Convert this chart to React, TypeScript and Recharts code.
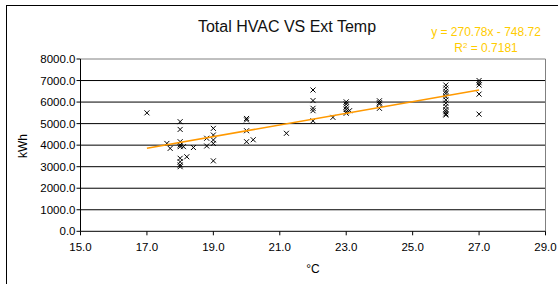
import React from 'react';
import { ScatterChart, Scatter, XAxis, YAxis, ReferenceLine } from 'recharts';

const FONT = '"Liberation Sans", Arial, sans-serif';

const chartTitle = 'Total HVAC VS Ext Temp';
const equationText = 'y = 270.78x - 748.72';
const r2Value = '0.7181';
const xAxisTitle = '°C';
const yAxisTitle = 'kWh';

const xTicks = [15, 17, 19, 21, 23, 25, 27, 29];
const yTicks = [0, 1000, 2000, 3000, 4000, 5000, 6000, 7000, 8000];

const temperatures = [
  17.0, 17.6, 17.7,
  18.0, 18.0, 18.0, 18.0, 18.0, 18.0, 18.0, 18.0, 18.0,
  18.1, 18.2, 18.4, 18.8, 18.8,
  19.0, 19.0, 19.0, 19.0, 19.0,
  20.0, 20.0, 20.0, 20.0, 20.2, 21.2,
  22.0, 22.0, 22.0, 22.0, 22.0, 22.6,
  23.0, 23.0, 23.0, 23.0, 23.0, 23.0, 23.1,
  24.0, 24.0, 24.0, 24.0,
  26.0, 26.0, 26.0, 26.0, 26.0, 26.0, 26.0, 26.0, 26.0, 26.0, 26.0, 26.0,
  27.0, 27.0, 27.0, 27.0, 27.0,
];

const energy = [
  5500, 4080, 3850,
  5090, 4730, 4160, 4010, 3930, 3390, 3230, 3080, 3000,
  3930, 3460, 3890, 4320, 3960,
  4780, 4470, 4240, 4080, 3270,
  5240, 5170, 4670, 4160, 4250, 4550,
  6560, 6070, 5710, 5600, 5130, 5290,
  6010, 5910, 5780, 5660, 5550, 5480, 5600,
  6060, 5970, 5910, 5710,
  6790, 6650, 6500, 6400, 6250, 6100, 5950, 5800, 5650, 5550, 5450, 5400,
  7000, 6900, 6790, 6370, 5440,
];

const trendSlope = 270.78;
const trendIntercept = -748.72;
const trendX = [17, 27];

const points = temperatures.map((t, i) => ({ x: t, y: energy[i] }));
const trendPoints = trendX.map((t) => ({ x: t, y: trendSlope * t + trendIntercept }));

const XMark = (props: any) => {
  const { cx, cy } = props;
  const s = 2.5;
  return (
    <path
      d={`M${cx - s},${cy - s}L${cx + s},${cy + s}M${cx - s},${cy + s}L${cx + s},${cy - s}`}
      stroke="#000"
      strokeWidth={1}
      fill="none"
    />
  );
};

const Empty = () => <g />;

export default function App() {
  return (
    <div style={{ position: 'absolute', left: 0, top: 0, width: 558, height: 284, overflow: 'hidden', background: '#fff', fontFamily: FONT }}>
      <div style={{ position: 'absolute', left: 6, top: 5, width: 700, height: 400, border: '1px solid #000', boxSizing: 'border-box' }} />
      <ScatterChart width={558} height={284} margin={{ top: 59, right: 12.5, bottom: 0, left: 0 }} style={{ position: 'absolute', left: 0, top: 0 }}>
        <XAxis
          type="number"
          dataKey="x"
          domain={[15, 29]}
          ticks={xTicks}
          height={52.7}
          tickFormatter={(v: number) => v.toFixed(1)}
          tick={{ fontSize: 11.5, fill: '#000', fontFamily: FONT }}
          tickSize={4}
          tickMargin={8}
          stroke="#000"
          allowDataOverflow
        />
        <YAxis
          type="number"
          dataKey="y"
          domain={[0, 8000]}
          ticks={yTicks}
          width={80.5}
          tickFormatter={(v: number) => v.toFixed(1)}
          tick={{ fontSize: 11.5, fill: '#000', fontFamily: FONT }}
          tickSize={4}
          tickMargin={1}
          stroke="#000"
          allowDataOverflow
        />
        {yTicks.filter((v) => v > 0).map((v) => (
          <ReferenceLine key={v} y={v} stroke={v === 8000 ? '#808080' : '#000'} strokeWidth={1} />
        ))}
        <ReferenceLine x={29} stroke="#808080" strokeWidth={1} />
        <Scatter data={points} shape={XMark} isAnimationActive={false} />
        <Scatter data={trendPoints} line={{ stroke: '#FF9900', strokeWidth: 1.5 }} shape={Empty} isAnimationActive={false} />
      </ScatterChart>
      <div style={{ position: 'absolute', left: 187, top: 18, width: 200, textAlign: 'center', fontSize: 16, color: '#111', whiteSpace: 'nowrap' }}>{chartTitle}</div>
      <div style={{ position: 'absolute', left: 416, top: 24, width: 140, textAlign: 'center', fontSize: 12, color: '#FFCC00', whiteSpace: 'nowrap', lineHeight: '16px' }}>
        <div>{equationText}</div>
        <div>R<sup style={{ fontSize: 8, verticalAlign: 'top', position: 'relative', top: -2 }}>2</sup> = {r2Value}</div>
      </div>
      <div style={{ position: 'absolute', left: 23, top: 146, transform: 'translate(-50%, -50%) rotate(-90deg)', fontSize: 12, color: '#000', whiteSpace: 'nowrap' }}>{yAxisTitle}</div>
      <div style={{ position: 'absolute', left: 313, top: 269, transform: 'translate(-50%, -50%)', fontSize: 12, color: '#000', whiteSpace: 'nowrap' }}>{xAxisTitle}</div>
    </div>
  );
}
